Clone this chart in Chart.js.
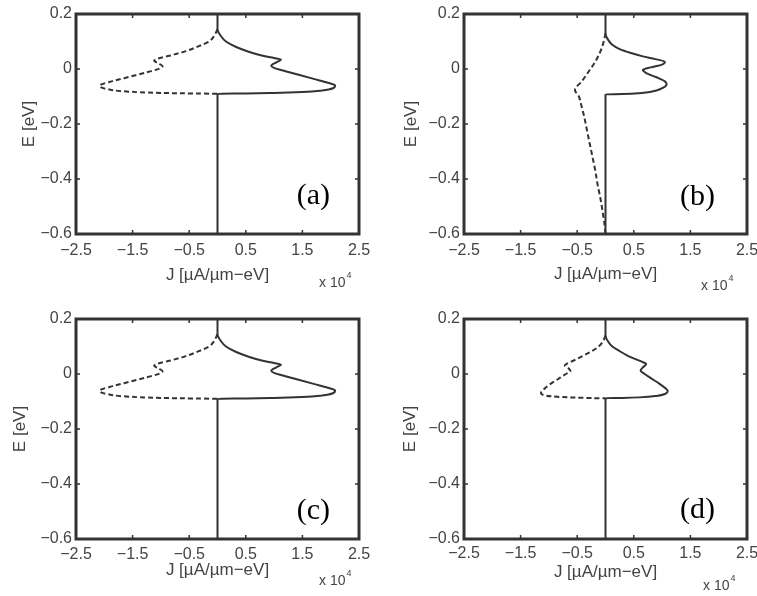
<!DOCTYPE html>
<html>
<head>
<meta charset="utf-8">
<script src="https://cdn.jsdelivr.net/npm/chart.js@4.4.1/dist/chart.umd.min.js"></script>
<style>
  body { margin: 0; width: 757px; height: 596px; overflow: hidden; background: #fff; position: relative; }
  canvas { position: absolute; }
</style>
</head>
<body>
<canvas id="chartA" width="378" height="296" style="left:0;top:0"></canvas>
<canvas id="chartB" width="378" height="296" style="left:388px;top:0"></canvas>
<canvas id="chartC" width="378" height="296" style="left:0;top:305px"></canvas>
<canvas id="chartD" width="378" height="296" style="left:388px;top:305px"></canvas>
<script>
// axis ticks
const jTicks = [-2.5, -1.5, -0.5, 0.5, 1.5, 2.5];
const eTicks = [-0.6, -0.4, -0.2, 0, 0.2];
const jExponent = '4';

// (a) solid / dashed spectra: J values and the energies they sit at
const jSolidA = [0, 0, 0.06, 0.15, 0.33, 0.55, 0.8, 1.0, 1.12, 1.04, 0.95, 1.0, 1.2, 1.45, 1.7, 1.95, 2.08, 2.04, 1.85, 1.5, 1.0, 0.5, 0, 0];
const eSolidA = [0.2, 0.145, 0.12, 0.1, 0.08, 0.063, 0.048, 0.04, 0.034, 0.024, 0.012, 0.004, -0.008, -0.022, -0.036, -0.05, -0.06, -0.07, -0.078, -0.084, -0.087, -0.089, -0.09, -0.6];
const jDashA = [0, -0.06, -0.15, -0.33, -0.56, -0.85, -1.05, -1.12, -1.04, -0.97, -1.02, -1.25, -1.55, -1.85, -2.05, -2.08, -1.95, -1.6, -1.0, -0.4, 0];
const eDashA = [0.145, 0.12, 0.1, 0.083, 0.065, 0.048, 0.038, 0.03, 0.02, 0.01, 0.002, -0.012, -0.028, -0.044, -0.056, -0.063, -0.073, -0.082, -0.087, -0.089, -0.09];

// (b)
const jSolidB = [0, 0, 0.05, 0.12, 0.25, 0.45, 0.66, 0.88, 1.05, 1.0, 0.8, 0.66, 0.72, 0.9, 1.05, 1.08, 1.02, 0.9, 0.6, 0.3, 0, 0];
const eSolidB = [0.2, 0.13, 0.105, 0.088, 0.072, 0.058, 0.046, 0.036, 0.026, 0.016, 0.006, -0.003, -0.015, -0.03, -0.045, -0.055, -0.068, -0.078, -0.088, -0.091, -0.092, -0.6];
const jDashB = [0, -0.02, -0.06, -0.12, -0.2, -0.3, -0.42, -0.54, -0.47, -0.43, -0.38, -0.33, -0.28, -0.23, -0.18, -0.14, -0.09, -0.05, -0.02, 0];
const eDashB = [0.13, 0.11, 0.08, 0.05, 0.02, -0.01, -0.045, -0.076, -0.1, -0.13, -0.17, -0.22, -0.27, -0.32, -0.37, -0.42, -0.47, -0.52, -0.56, -0.6];

// (c)
const jSolidC = [0, 0, 0.06, 0.15, 0.33, 0.55, 0.8, 1.0, 1.12, 1.04, 0.95, 1.0, 1.2, 1.45, 1.7, 1.95, 2.08, 2.04, 1.85, 1.5, 1.0, 0.5, 0, 0];
const eSolidC = [0.2, 0.145, 0.12, 0.1, 0.08, 0.063, 0.048, 0.04, 0.034, 0.024, 0.012, 0.004, -0.008, -0.022, -0.036, -0.05, -0.06, -0.07, -0.078, -0.084, -0.087, -0.089, -0.09, -0.6];
const jDashC = [0, -0.06, -0.15, -0.33, -0.56, -0.85, -1.05, -1.12, -1.04, -0.97, -1.02, -1.25, -1.55, -1.85, -2.05, -2.08, -1.95, -1.6, -1.0, -0.4, 0];
const eDashC = [0.145, 0.12, 0.1, 0.083, 0.065, 0.048, 0.038, 0.03, 0.02, 0.01, 0.002, -0.012, -0.028, -0.044, -0.056, -0.063, -0.073, -0.082, -0.087, -0.089, -0.09];

// (d)
const jSolidD = [0, 0, 0.04, 0.12, 0.25, 0.38, 0.52, 0.65, 0.72, 0.66, 0.62, 0.68, 0.8, 0.95, 1.06, 1.1, 1.06, 0.9, 0.6, 0.3, 0, 0];
const eSolidD = [0.2, 0.14, 0.12, 0.1, 0.083, 0.068, 0.055, 0.044, 0.036, 0.024, 0.012, 0.002, -0.015, -0.035, -0.052, -0.062, -0.072, -0.08, -0.085, -0.087, -0.088, -0.6];
const jDashD = [0, -0.04, -0.12, -0.25, -0.4, -0.55, -0.68, -0.72, -0.65, -0.62, -0.7, -0.85, -1.0, -1.1, -1.14, -1.08, -0.85, -0.5, -0.2, 0];
const eDashD = [0.14, 0.12, 0.1, 0.082, 0.066, 0.05, 0.038, 0.03, 0.02, 0.01, 0.0, -0.02, -0.04, -0.058, -0.068, -0.077, -0.083, -0.086, -0.088, -0.088];

const toPoints = (js, es) => js.map((j, i) => ({ x: j, y: es[i] }));
const fmt = v => v === 0 ? '0' : String(v).replace('-', '\u2212');

// box around the axes, inward ticks, the x10^n factor and the panel tag
const framePlugin = {
  id: 'frame',
  afterDatasetsDraw(chart, args, opts) {
    const { ctx, chartArea: a, scales } = chart;
    ctx.save();
    ctx.strokeStyle = '#333';
    ctx.lineWidth = 1.5;
    ctx.beginPath();
    scales.x.ticks.forEach(t => {
      const px = scales.x.getPixelForValue(t.value);
      ctx.moveTo(px, a.top); ctx.lineTo(px, a.top + 4);
      ctx.moveTo(px, a.bottom); ctx.lineTo(px, a.bottom - 4);
    });
    scales.y.ticks.forEach(t => {
      const py = scales.y.getPixelForValue(t.value);
      ctx.moveTo(a.left, py); ctx.lineTo(a.left + 4, py);
      ctx.moveTo(a.right, py); ctx.lineTo(a.right - 4, py);
    });
    ctx.stroke();
    ctx.lineWidth = 3;
    ctx.strokeRect(a.left, a.top, a.width, a.height);

    ctx.fillStyle = '#444';
    ctx.textBaseline = 'middle';
    ctx.textAlign = 'left';
    ctx.font = '14px "Liberation Sans"';
    const ex = a.right - opts.expLeft, ey = a.bottom + opts.expDown;
    ctx.fillText('x 10', ex, ey);
    const w = ctx.measureText('x 10').width;
    ctx.font = '9px "Liberation Sans"';
    ctx.fillText(jExponent, ex + w + 1, ey - 7);

    ctx.fillStyle = '#000';
    ctx.font = '30px "Liberation Serif"';
    ctx.textAlign = 'right';
    ctx.fillText(opts.tag, a.right - opts.tagRight, a.bottom - opts.tagUp);
    ctx.restore();
  }
};

const panels = [
  { id: 'chartA', solid: toPoints(jSolidA, eSolidA), dash: toPoints(jDashA, eDashA), tag: '(a)',
    yTitlePad: 19, xTitlePad: 10, tickPad: 7, tagRight: 29, tagUp: 38, expLeft: 40, expDown: 49 },
  { id: 'chartB', solid: toPoints(jSolidB, eSolidB), dash: toPoints(jDashB, eDashB), tag: '(b)',
    yTitlePad: 13, xTitlePad: 11, tickPad: 7, tagRight: 32, tagUp: 37, expLeft: 46, expDown: 52 },
  { id: 'chartC', solid: toPoints(jSolidC, eSolidC), dash: toPoints(jDashC, eDashC), tag: '(c)',
    yTitlePad: 10, xTitlePad: 20, tickPad: 6, tagRight: 29, tagUp: 28, expLeft: 40, expDown: 42 },
  { id: 'chartD', solid: toPoints(jSolidD, eSolidD), dash: toPoints(jDashD, eDashD), tag: '(d)',
    yTitlePad: 12, xTitlePad: 18, tickPad: 5, tagRight: 32, tagUp: 29, expLeft: 44, expDown: 47 }
];

const tickFont = { family: '"Liberation Sans", Arial, sans-serif', size: 16 };
const titleFont = { family: '"Liberation Sans", Arial, sans-serif', size: 17 };

panels.forEach(p => {
  new Chart(document.getElementById(p.id), {
    type: 'scatter',
    data: {
      datasets: [
        { data: p.solid, showLine: true, borderColor: '#333', borderWidth: 2,
          pointRadius: 0, cubicInterpolationMode: 'monotone' },
        { data: p.dash, showLine: true, borderColor: '#333', borderWidth: 2, borderDash: [5, 3],
          pointRadius: 0, cubicInterpolationMode: 'monotone' }
      ]
    },
    options: {
      responsive: false,
      animation: false,
      indexAxis: 'y',
      layout: { padding: { top: 14, right: 19, left: 0, bottom: 0 } },
      plugins: {
        legend: { display: false },
        tooltip: { enabled: false },
        frame: { tag: p.tag, tagRight: p.tagRight, tagUp: p.tagUp, expLeft: p.expLeft, expDown: p.expDown }
      },
      scales: {
        x: {
          type: 'linear', position: 'bottom', min: -2.5, max: 2.5,
          afterBuildTicks: s => { s.ticks = jTicks.map(v => ({ value: v })); },
          afterFit: s => { s.height = 62; },
          grid: { display: false, drawTicks: false },
          border: { display: false },
          ticks: { font: tickFont, color: '#444', padding: p.tickPad, autoSkip: false, maxRotation: 0, callback: fmt },
          title: { display: true, text: 'J [\u00b5A/\u00b5m\u2212eV]', font: titleFont, color: '#444',
                   padding: { top: 0, bottom: p.xTitlePad } }
        },
        y: {
          type: 'linear', position: 'left', min: -0.6, max: 0.2,
          afterBuildTicks: s => { s.ticks = eTicks.map(v => ({ value: v })); },
          afterFit: s => { s.width = 76; },
          grid: { display: false, drawTicks: false },
          border: { display: false },
          ticks: { font: tickFont, color: '#444', padding: 4, autoSkip: false, callback: fmt },
          title: { display: true, text: 'E [eV]', font: titleFont, color: '#444',
                   padding: { top: p.yTitlePad, bottom: 0 } }
        }
      }
    },
    plugins: [framePlugin]
  });
});
</script>
</body>
</html>
